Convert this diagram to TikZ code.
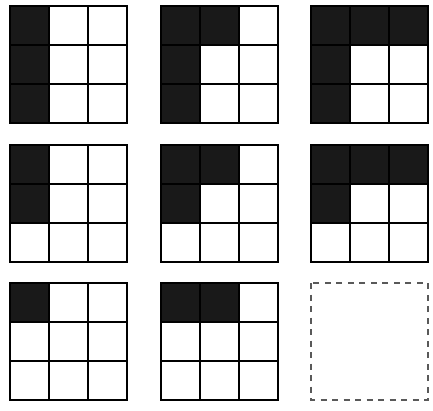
\documentclass[tikz,border=0pt]{standalone}
\begin{document}
\begin{tikzpicture}[x=1pt,y=-1pt,
  gridline/.style={line width=1.8pt,black},
  blk/.style={fill=black!90},
  dashbox/.style={line width=1.8pt,black!65,dash pattern=on 6pt off 5.5pt}]
\useasboundingbox (0,0) rectangle (433,411);
\def\cs{39}
\foreach \ox/\oy/\cells in {
  10/6/{0/0,0/1,0/2},
  161/6/{0/0,1/0,0/1,0/2},
  311/6/{0/0,1/0,2/0,0/1,0/2},
  10/145/{0/0,0/1},
  161/145/{0/0,1/0,0/1},
  311/145/{0/0,1/0,2/0,0/1},
  10/283/{0/0},
  161/283/{0/0,1/0}}{
  \begin{scope}[shift={(\ox,\oy)}]
    \foreach \i/\j in \cells {
      \fill[blk] (\i*\cs,\j*\cs) rectangle ({(\i+1)*\cs},{(\j+1)*\cs});
    }
    \foreach \k in {1,2} {
      \draw[gridline] (\k*\cs,0) -- (\k*\cs,3*\cs);
      \draw[gridline] (0,\k*\cs) -- (3*\cs,\k*\cs);
    }
    \draw[gridline] (0,0) rectangle (3*\cs,3*\cs);
  \end{scope}
}
\draw[dashbox] (311,283) rectangle (428,400);
\end{tikzpicture}
\end{document}
